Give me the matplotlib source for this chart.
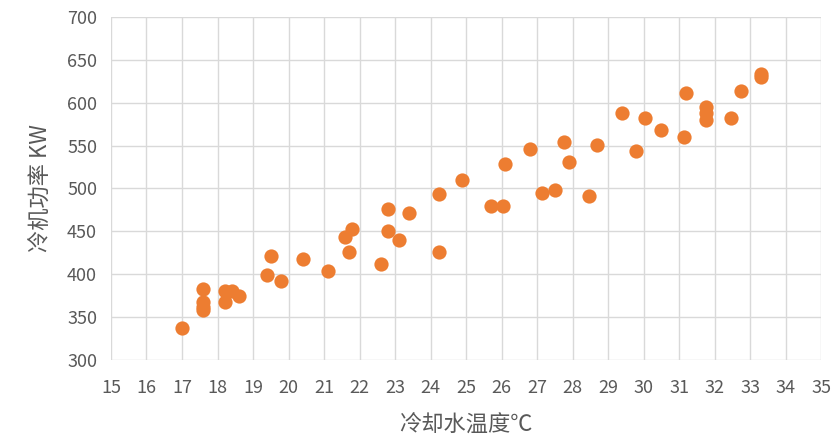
import matplotlib.pyplot as plt

plt.rcParams['font.family'] = ['Noto Sans CJK SC', 'DejaVu Sans']

# 冷却水温度 (°C) vs 冷机功率 (KW)
temp = [17.0, 17.6, 17.6, 17.6, 17.6, 18.2, 18.4, 18.2, 18.6,
        19.5, 19.4, 19.8, 20.4, 21.1, 21.6, 21.8, 21.7,
        22.8, 22.8, 22.6, 23.4, 23.1, 24.25, 24.25, 24.9,
        25.7, 26.05, 26.1, 26.8, 27.15, 27.5, 27.75, 27.9,
        28.45, 28.7, 29.4, 29.8, 30.05, 30.5, 31.15, 31.2,
        31.75, 31.75, 31.75, 32.45, 32.75, 33.3, 33.3]
power = [337, 383, 368, 362, 358, 381, 381, 368, 375,
         421, 399, 392, 418, 404, 443, 453, 426,
         476, 450, 412, 471, 440, 493, 426, 510,
         479, 479, 529, 546, 495, 498, 554, 531,
         491, 551, 588, 544, 582, 568, 560, 611,
         595, 588, 580, 582, 614, 630, 633]

fig = plt.figure(figsize=(8.37, 4.45), dpi=100)
ax = fig.add_axes([0.1326, 0.191, 0.8484, 0.771])

ax.scatter(temp, power, s=105, color='#ED7D31', zorder=3, linewidths=0)

ax.set_xlim(15, 35)
ax.set_ylim(300, 700)
ax.set_xticks(range(15, 36))
ax.set_yticks(range(300, 701, 50))
ax.grid(True, color='#D9D9D9', linewidth=1)
ax.set_axisbelow(True)
for s in ax.spines.values():
    s.set_visible(False)
ax.tick_params(length=0, labelsize=13, colors='#595959')
ax.tick_params(axis='x', pad=14)
ax.tick_params(axis='y', pad=10)

ax.set_xlabel('冷却水温度℃', fontsize=16, color='#595959', labelpad=12)
ax.set_ylabel('冷机功率 KW', fontsize=16, color='#595959', labelpad=10)

fig.savefig('out.png', dpi=100)
